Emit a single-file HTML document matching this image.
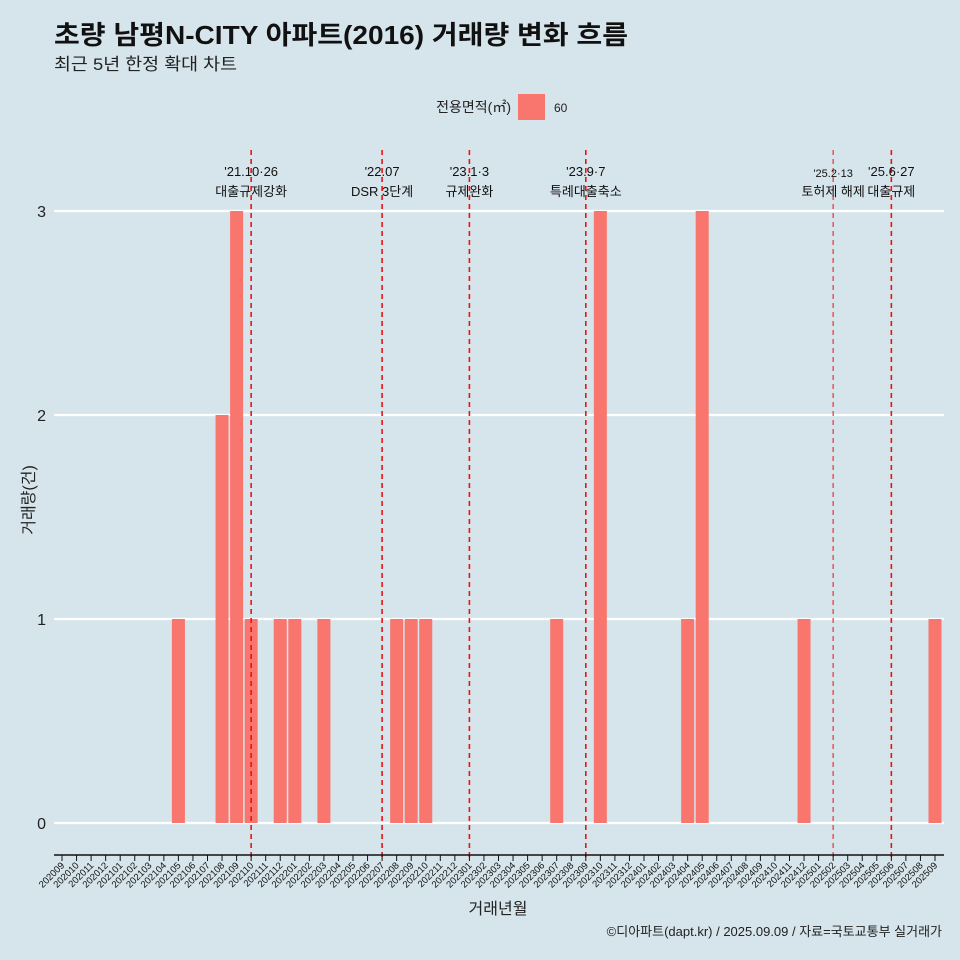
<!DOCTYPE html>
<html><head><meta charset="utf-8"><style>
body{margin:0;background:#d6e4eb;}
svg{display:block;font-family:"Liberation Sans","Noto Sans CJK KR",sans-serif;}
</style></head><body>
<svg id="chart" width="960" height="960" viewBox="0 0 960 960">
<rect width="960" height="960" fill="#d6e4eb"/>
<text x="54" y="44" font-size="26" font-weight="bold" fill="#111" textLength="574" lengthAdjust="spacingAndGlyphs">초량 남평N-CITY 아파트(2016) 거래량 변화 흐름</text>
<text x="54" y="70" font-size="17" fill="#222" textLength="183" lengthAdjust="spacingAndGlyphs">최근 5년 한정 확대 차트</text>
<g>
<text x="511" y="112" font-size="14" fill="#222" text-anchor="end">전용면적(㎡)</text>
<rect x="518" y="94" width="27" height="26" fill="#f8766d"/>
<text x="554" y="112" font-size="12" fill="#222">60</text>
</g>
<g id="grid"></g><g id="bars"></g><g id="vlines"></g><g id="axis"></g>
<text transform="translate(34,500) rotate(-90)" font-size="16" fill="#222" text-anchor="middle">거래량(건)</text>
<text x="498" y="914" font-size="16" fill="#222" text-anchor="middle">거래년월</text>
<text x="942" y="936" font-size="13" fill="#222" text-anchor="end">©디아파트(dapt.kr) / 2025.09.09 / 자료=국토교통부 실거래가</text>
</svg>
<script>
const months=[];for(let y=2020,m=9;y*100+m<=202509;){months.push(String(y*100+m));m++;if(m>12){m=1;y++;}}
const nonZeroMonths=["202105","202108","202109","202110","202112","202201","202203","202208","202209","202210","202307","202310","202404","202405","202412","202509"];
const nonZeroValues=[1,2,3,1,1,1,1,1,1,1,1,3,1,3,1,1];
const yTicks=[0,1,2,3];
const eventMonths=["202110","202207","202301","202309","202502","202506"];
const eventLine1=["'21.10·26","'22.07","'23.1·3","'23.9·7","'25.2·13","'25.6·27"];
const eventLine2=["대출규제강화","DSR 3단계","규제완화","특례대출축소","토허제 해제","대출규제"];
const NS="http://www.w3.org/2000/svg";
const x0=62,x1=935,step=(x1-x0)/(months.length-1);
const xs=m=>x0+months.indexOf(m)*step;
const ys=v=>823-v*204;
function mk(t,a,p){const e=document.createElementNS(NS,t);for(const k in a)e.setAttribute(k,a[k]);document.getElementById(p).appendChild(e);return e;}
yTicks.forEach(v=>{
 const l=mk('line',{x1:54,x2:944,y1:ys(v),y2:ys(v),stroke:'#fff','stroke-width':2.2},'grid');
 
 
 const t=mk('text',{x:46,y:ys(v)+6,'font-size':16,'text-anchor':'end',fill:'#222'},'grid');t.textContent=v;
 
 
});
nonZeroMonths.forEach((m,i)=>{
 const v=nonZeroValues[i];
 const r=mk('rect',{x:xs(m)-6.5,y:ys(v),width:13,height:ys(0)-ys(v),fill:'#f8766d'},'bars');
 
 
});
eventMonths.forEach((m,i)=>{
 const x=xs(m),small=i===4;
 const l=mk('line',{x1:x,x2:x,y1:150,y2:860,stroke:small?'#f03030':'#ee1111','stroke-width':small?1.2:1.6,'stroke-dasharray':'5,4'},'vlines');
 
 
 const t1=mk('text',{x:x,y:small?177:176,'font-size':small?11:13,'text-anchor':'middle',fill:'#111'},'vlines');t1.textContent=eventLine1[i];
 
 
 const t2=mk('text',{x:x,y:196,'font-size':13,'text-anchor':'middle',fill:'#111'},'vlines');t2.textContent=eventLine2[i];
 
 
});
const ax=mk('line',{x1:54,x2:944,y1:855,y2:855,stroke:'#111','stroke-width':1.5},'axis');


months.forEach(m=>{
 const x=xs(m);
 const tk=mk('line',{x1:x,x2:x,y1:855,y2:861,stroke:'#111','stroke-width':1},'axis');
 
 
 const t=mk('text',{transform:`translate(${x+3},${866}) rotate(-45)`,'font-size':9.5,'text-anchor':'end',fill:'#111'},'axis');t.textContent=m;
 
 
});
</script>
</body></html>
